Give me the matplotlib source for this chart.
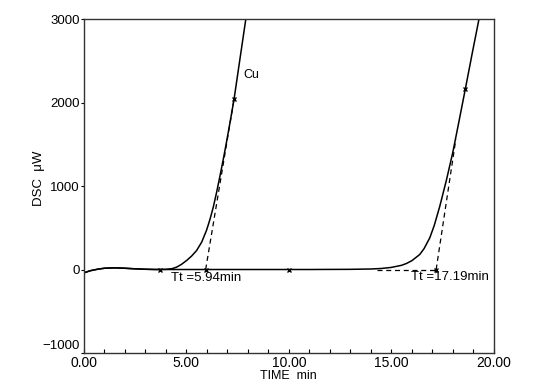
import matplotlib
matplotlib.use("Agg")
import matplotlib.pyplot as plt
from matplotlib.ticker import MultipleLocator, FormatStrFormatter, FuncFormatter

plt.rcParams['font.family'] = ['Liberation Sans Narrow', 'Liberation Sans', 'DejaVu Sans']

# DSC curve for Cu (fast transformation)
t_cu = [0, 0.3, 0.7, 1.0, 1.5, 2.0, 2.5, 3.0, 3.5, 4.0, 4.3, 4.52, 4.75, 5.01, 5.25,
        5.5, 5.75, 5.98, 6.15, 6.31, 6.47, 6.63, 6.8, 6.96, 7.15, 7.33, 7.6, 7.9]
dsc_cu = [-40, -15, 5, 15, 20, 15, 8, 3, 0, 2, 10, 28, 60, 108, 160,
          228, 330, 468, 600, 745, 920, 1110, 1320, 1530, 1790, 2047, 2500, 3000]

# second (slow) curve
t_2 = [0, 0.3, 0.7, 1.0, 1.5, 2.0, 2.5, 3.0, 3.5, 5.0, 8.0, 11.0, 13.0, 14.0, 14.5,
       15.0, 15.5, 15.74, 16.0, 16.39, 16.6, 16.88, 17.1, 17.37, 17.69, 18.0, 18.3,
       18.62, 18.95, 19.28]
dsc_2 = [-40, -15, 5, 15, 20, 15, 8, 3, 0, 0, 0, 0, 2, 6, 12,
         25, 50, 72, 105, 180, 250, 380, 530, 760, 1070, 1400, 1770,
         2170, 2590, 3000]

# onset construction (tangent + baseline)
tan1_t = [5.94, 7.33]
tan1_v = [0, 2047]
tan2_t = [17.19, 18.15]
tan2_v = [0, 1560]
base2_t = [14.3, 17.19]
base2_v = [0, 0]

# marked points
mark_t = [3.7, 10.0, 7.33, 18.62, 5.94, 17.19]
mark_v = [0, 0, 2047, 2160, 0, 0]

y_min, y_max = -1000, 3000

fig = plt.figure(figsize=(5.56, 3.82), dpi=100)
ax = fig.add_axes([0.151, 0.076, 0.737, 0.874])

ax.plot(t_cu, dsc_cu, color='black', lw=1.1)
ax.plot(t_2, dsc_2, color='black', lw=1.1)
ax.plot(tan1_t, tan1_v, color='black', lw=0.9, ls=(0, (4, 3)))
ax.plot(tan2_t, tan2_v, color='black', lw=0.9, ls=(0, (4, 3)))
ax.plot(base2_t, base2_v, color='black', lw=0.9, ls=(0, (4, 3)))
ax.plot(mark_t, mark_v, ls='none', marker='x', ms=3, mew=1, color='black')

ax.text(7.76, 2330, 'Cu', fontsize=9, va='center', ha='left')
ax.text(4.27, -105, 'Tt =5.94min', fontsize=9.5, va='center', ha='left')
ax.text(15.98, -90, 'Tt =17.19min', fontsize=9.5, va='center', ha='left')

ax.set_xlim(0, 20)
ax.set_ylim(y_min, y_max)
ax.xaxis.set_major_locator(MultipleLocator(5))
ax.xaxis.set_minor_locator(MultipleLocator(1))
ax.xaxis.set_major_formatter(FormatStrFormatter('%.2f'))
ax.yaxis.set_major_locator(MultipleLocator(1000))
# lowest y label is drawn separately, a little above its tick
ax.yaxis.set_major_formatter(FuncFormatter(lambda v, p: '' if v <= y_min else '%d' % v))
ax.annotate('\u22121000', xy=(0, y_min), xycoords=('axes fraction', 'data'),
            xytext=(-3, 0.5), textcoords='offset points', ha='right', va='bottom',
            fontsize=9.5)

ax.tick_params(axis='x', which='both', direction='in', length=3, width=0.8,
               labelsize=10, pad=2, top=False)
ax.tick_params(axis='y', which='major', direction='out', length=2, width=0.8,
               labelsize=9.5, pad=1, right=False)

for sp in ax.spines.values():
    sp.set_color('#333333')
    sp.set_linewidth(1.0)

ax.set_xlabel('TIME  min', fontsize=9)
ax.xaxis.set_label_coords(0.5, -0.05)
ax.set_ylabel('DSC  \u03bcW', fontsize=9.5)
ax.yaxis.set_label_coords(-0.095, 0.524)

fig.savefig('out.png', dpi=100)
